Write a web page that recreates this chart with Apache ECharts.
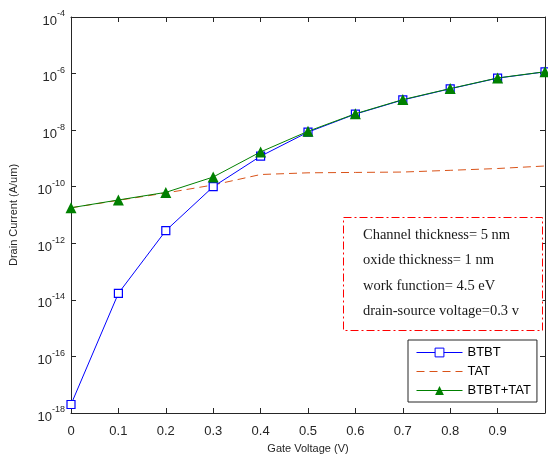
<!DOCTYPE html>
<html>
<head>
<meta charset="utf-8">
<script src="https://cdn.jsdelivr.net/npm/echarts@6/dist/echarts.min.js"></script>
<style>
  html, body { margin: 0; padding: 0; background: #fff; }
  #chart { width: 548px; height: 459px; }
</style>
</head>
<body>
<div id="chart"></div>
<script>
// gate voltage (V)
const gateVoltage = [0, 0.1, 0.2, 0.3, 0.4, 0.5, 0.6, 0.7, 0.8, 0.9, 1.0]
// drain current (A/um)
const btbt = [2.0e-18, 1.7e-14, 2.8e-12, 1.0e-10, 1.2e-9, 8.5e-9, 3.7e-8, 1.17e-7, 2.9e-7, 6.9e-7, 1.15e-6]
const tat = [1.8e-11, 3.3e-11, 6.0e-11, 1.15e-10, 2.7e-10, 3.1e-10, 3.2e-10, 3.3e-10, 3.8e-10, 4.4e-10, 5.4e-10]
const btbtTat = [1.8e-11, 3.4e-11, 6.3e-11, 2.2e-10, 1.7e-9, 9.1e-9, 3.8e-8, 1.2e-7, 2.95e-7, 7.0e-7, 1.16e-6]
// y ticks, as powers of ten
const yTickExp = [-18, -16, -14, -12, -10, -8, -6, -4]

const notes = [
  'Channel thickness= 5 nm',
  'oxide thickness= 1 nm',
  'work function= 4.5 eV',
  'drain-source voltage=0.3 v'
]

// y axis is drawn in decades (log10 of the current)
const pair = (ys) => gateVoltage.map((x, i) => [x, Math.log10(ys[i])])
const sans = 'Liberation Sans, Arial, sans-serif'
const axisColor = '#262626'

const chart = echarts.init(document.getElementById('chart'))

const expLabel = (v) => '{b|10}{s|' + Math.round(v) + '}'

const yMin = yTickExp[0]
const yMax = yTickExp[yTickExp.length - 1]

chart.setOption({
  animation: false,
  grid: { left: 71, top: 17, right: -1, bottom: 43 },
  legend: {
    orient: 'vertical',
    left: 408,
    top: 340,
    padding: [6, 6, 5, 8],
    itemGap: 6,
    itemWidth: 46,
    itemHeight: 11,
    borderColor: axisColor,
    borderWidth: 1,
    backgroundColor: '#fff',
    lineStyle: { width: 1 },
    textStyle: { fontFamily: sans, fontSize: 13, color: '#000' },
    data: [
      { name: 'BTBT', itemStyle: { borderWidth: 1 } },
      { name: 'TAT', itemStyle: { color: 'rgba(0,0,0,0)', borderWidth: 0 } },
      'BTBT+TAT'
    ]
  },
  xAxis: [{
    type: 'value',
    min: 0,
    max: 1,
    interval: 0.1,
    name: 'Gate Voltage (V)',
    nameLocation: 'middle',
    nameGap: 30,
    nameTextStyle: { fontFamily: sans, fontSize: 11, color: '#262626' },
    axisLine: { onZero: false, lineStyle: { color: axisColor } },
    axisTick: { inside: true, length: 5, lineStyle: { color: axisColor } },
    axisLabel: {
      fontFamily: sans, fontSize: 13, color: '#262626', margin: 12,
      formatter: (v) => (v >= 1 ? '' : String(Math.round(v * 10) / 10))
    },
    splitLine: { show: false }
  }, {
    type: 'value',
    position: 'top',
    min: 0,
    max: 1,
    interval: 0.1,
    axisLine: { onZero: false, lineStyle: { color: axisColor } },
    axisTick: { inside: true, length: 5, lineStyle: { color: axisColor } },
    axisLabel: { show: false },
    splitLine: { show: false }
  }],
  yAxis: [{
    type: 'value',
    min: yMin,
    max: yMax,
    interval: 2,
    name: 'Drain Current (A/um)',
    nameLocation: 'middle',
    nameGap: 52,
    nameTextStyle: { fontFamily: sans, fontSize: 11, color: '#262626' },
    axisLine: { onZero: false, lineStyle: { color: axisColor } },
    axisTick: { inside: true, length: 5, lineStyle: { color: axisColor } },
    axisLabel: {
      margin: 6,
      formatter: expLabel,
      rich: {
        b: { fontFamily: sans, fontSize: 13, color: '#262626', padding: [8, 0, 0, 0] },
        s: { fontFamily: sans, fontSize: 9, color: '#262626', padding: [0, 0, 6, 0] }
      }
    },
    splitLine: { show: false }
  }, {
    type: 'value',
    min: yMin,
    max: yMax,
    interval: 2,
    position: 'right',
    axisLine: { onZero: false, lineStyle: { color: axisColor } },
    axisTick: { inside: true, length: 5, lineStyle: { color: axisColor } },
    axisLabel: { show: false },
    splitLine: { show: false }
  }],
  series: [{
    name: 'BTBT',
    type: 'line',
    data: pair(btbt),
    symbol: 'rect',
    symbolSize: 8,
    itemStyle: { color: '#fff', borderColor: '#0000ff', borderWidth: 1.2 },
    lineStyle: { color: '#0000ff', width: 1 },
    z: 3
  }, {
    name: 'TAT',
    type: 'line',
    data: pair(tat),
    showSymbol: false,
    symbol: 'none',
    itemStyle: { color: '#d95319' },
    lineStyle: { color: '#d95319', width: 1, type: [8, 5] },
    z: 2
  }, {
    name: 'BTBT+TAT',
    type: 'line',
    data: pair(btbtTat),
    symbol: 'triangle',
    symbolSize: 11,
    itemStyle: { color: '#008000' },
    lineStyle: { color: '#008000', width: 1 },
    z: 4
  }],
  graphic: [{
    type: 'rect',
    left: 343,
    top: 217,
    shape: { width: 199, height: 113 },
    style: { fill: '#fff', stroke: '#ff0000', lineWidth: 1, lineDash: [8, 3, 2, 3] },
    z: 10
  }].concat(notes.map((t, i) => ({
    type: 'text',
    x: 363,
    y: 235 + i * 25.4,
    style: {
      text: t,
      fontFamily: 'Liberation Serif, Times New Roman, serif',
      fontSize: 14.5,
      fill: '#1a1a1a',
      verticalAlign: 'middle'
    },
    z: 11
  })))
})
</script>
</body>
</html>
